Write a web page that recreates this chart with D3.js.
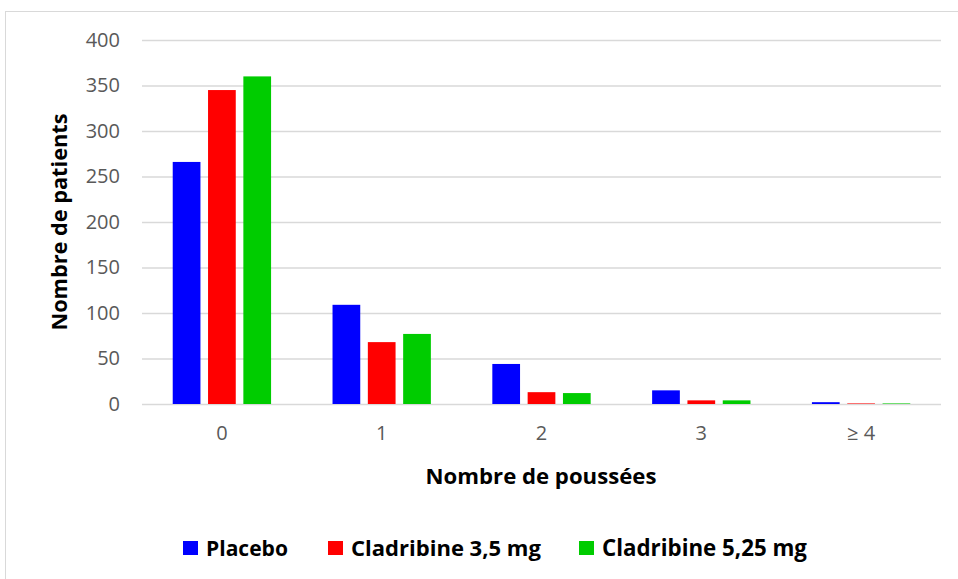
<!DOCTYPE html>
<html><head><meta charset="utf-8">
<script src="https://cdn.jsdelivr.net/npm/d3@7"></script>
<style>body{margin:0;background:#fff;}svg{display:block;}</style>
</head><body>
<svg id="c" width="958" height="579"></svg>
<script>
const categories = ["0", "1", "2", "3", "\u2265 4"];
const seriesNames = ["Placebo", "Cladribine 3,5 mg", "Cladribine 5,25 mg"];
const placebo = [266, 109, 44, 15, 2];
const clad35 = [345, 68, 13, 4, 0.6];
const clad525 = [360, 77, 12, 4, 0.6];
const yTicks = [0, 50, 100, 150, 200, 250, 300, 350, 400];
const colors = ["#0000FF", "#FF0000", "#00CC00"];

const series = [placebo, clad35, clad525];
const svg = d3.select("#c");
const font = "'Open Sans', 'Liberation Sans', sans-serif";

// scale a text's font size so that it spans the target width
function fit(sel, target) {
  sel.each(function () {
    const len = this.getComputedTextLength();
    const fs = parseFloat(this.style.fontSize);
    d3.select(this).style("font-size", (fs * target / len) + "px");
  });
}

svg.append("rect").attr("x", 5.5).attr("y", 11.5).attr("width", 960).attr("height", 580)
  .attr("fill", "#fff").attr("stroke", "#d9d9d9");

const x = d3.scaleBand().domain(categories).range([142, 941]);
const xi = d3.scaleBand().domain(d3.range(3)).range([0, x.bandwidth()]).paddingInner(0.215).paddingOuter(0.87);
const y = d3.scaleLinear().domain([0, 400]).range([404, 40]);

const gy = svg.append("g").attr("transform", "translate(142,0)")
  .call(d3.axisLeft(y).tickValues(yTicks).tickSize(-799).tickPadding(22));
gy.select(".domain").remove();
gy.selectAll(".tick line").attr("stroke", "#d9d9d9").attr("stroke-width", 1.5);
gy.selectAll(".tick text").attr("fill", "#595959").style("font-family", font).style("font-size", "20px");

const groups = svg.append("g").selectAll("g").data(categories).join("g")
  .attr("transform", d => `translate(${x(d)},0)`);
groups.selectAll("rect").data((d, i) => series.map((s, k) => ({k, v: s[i]}))).join("rect")
  .attr("x", d => xi(d.k)).attr("width", xi.bandwidth())
  .attr("y", d => y(d.v)).attr("height", d => y(0) - y(d.v))
  .attr("fill", d => colors[d.k]);

const gx = svg.append("g").attr("transform", "translate(0,404)")
  .call(d3.axisBottom(x).tickSize(0).tickPadding(22));
gx.select(".domain").remove();
gx.selectAll(".tick text").attr("fill", "#595959").style("font-family", font).style("font-size", "20px");

svg.append("text").attr("x", 541).attr("y", 484).attr("text-anchor", "middle")
  .style("font-family", font).style("font-size", "20px").style("font-weight", "bold").attr("fill", "#000")
  .text("Nombre de poussées").call(fit, 231);
svg.append("text").attr("transform", "translate(67,222) rotate(-90)").attr("text-anchor", "middle")
  .style("font-family", font).style("font-size", "20px").style("font-weight", "bold").attr("fill", "#000")
  .text("Nombre de patients").call(fit, 217);

const legX = [183, 328, 579];
const legW = [82, 190, 205];
const leg = svg.append("g").selectAll("g").data(seriesNames).join("g")
  .attr("transform", (d, i) => `translate(${legX[i]},541)`);
leg.append("rect").attr("width", 15).attr("height", 14).attr("fill", (d, i) => colors[i]);
leg.append("text").attr("x", 23).attr("y", 14.5).style("font-family", font).style("font-size", "20px")
  .style("font-weight", "bold").attr("fill", "#000").text(d => d)
  .each(function (d, i) { d3.select(this).call(fit, legW[i]); });
</script>
</body></html>
